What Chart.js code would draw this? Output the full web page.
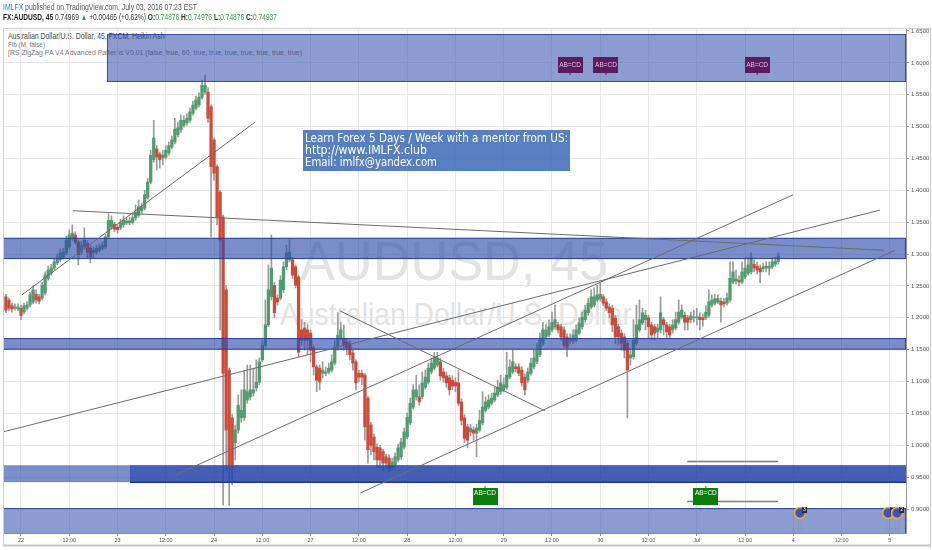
<!DOCTYPE html>
<html><head><meta charset="utf-8">
<script src="https://cdn.jsdelivr.net/npm/chart.js@4.4.1/dist/chart.umd.min.js"></script>
<style>
html,body{margin:0;padding:0;background:#fff;width:932px;height:550px;overflow:hidden;font-family:"Liberation Sans",Arial,sans-serif;}
.t{position:absolute;white-space:nowrap;transform-origin:0 0;line-height:1;}
#under{position:absolute;left:0;top:0;width:932px;height:550px;z-index:0;}
#c{position:absolute;left:0;top:0;z-index:1;}
#over{position:absolute;left:0;top:0;width:932px;height:550px;z-index:2;pointer-events:none;}
#box{position:absolute;left:303px;top:130px;width:267px;height:41px;background:rgba(60,105,185,0.85);}
.g{color:#35a03f}
.dv{font-family:"DejaVu Sans",Verdana,sans-serif;}
</style></head><body>
<div id="under">
  <div class="t" data-w="158" style="left:8px;top:32px;font-size:8.4px;color:#444;">Australian Dollar/U.S. Dollar, 45, FXCM, Heikin Ashi</div>
  <div class="t" data-w="37" style="left:8px;top:41px;font-size:7.7px;color:#777;">Fib (M, false)</div>
  <div class="t" data-w="294" style="left:8px;top:48.5px;font-size:7.7px;color:#777;">[RS]ZigZag PA V4 Advanced Patterns V0.01 (false, true, 60, true, true, true, true, true, true, true)</div>
  <div class="t" data-w="308" style="left:300px;top:232.7px;font-size:56px;color:#e3e3e3;">AUDUSD, 45</div>
  <div class="t" data-w="352" style="left:280px;top:297.8px;font-size:32px;color:#e3e3e3;">Australian Dollar/U.S. Dollar</div>
</div>
<canvas id="c" width="932" height="550"></canvas>
<div id="over">
  <div class="t" data-w="194" style="left:3px;top:2.9px;font-size:8.4px;color:#555;"><span style="color:#2f7bd0">IMLFX</span> published on TradingView.com, July 03, 2016 07:23 EST</div>
  <div class="t" data-w="274" style="left:3px;top:12.9px;font-size:8.5px;color:#333;"><b style="color:#222">FX:AUDUSD, 45</b> 0.74969 <span class="g">▲</span> +0.00465 (+0.62%) <b>O:</b><span class="g">0.74876</span> <b>H:</b><span class="g">0.74976</span> <b>L:</b><span class="g">0.74876</span> <b>C:</b><span class="g">0.74937</span></div>
  <div id="box"></div>
  <div class="t dv" data-w="263" style="left:305px;top:132.9px;font-size:11.5px;color:#fff;">Learn Forex 5 Days / Week with a mentor from US:</div>
  <div class="t dv" data-w="122" style="left:305px;top:145.3px;font-size:11.5px;color:#fff;">http://www.IMLFX.club</div>
  <div class="t dv" data-w="132" style="left:305px;top:156.9px;font-size:11.5px;color:#fff;">Email: imlfx@yandex.com</div>
</div>
<script>
// ---- data (45-minute Heikin Ashi bars, oldest first) ----
const openP = [
1.233,1.228,1.219,1.215,1.214,1.215,1.209,1.215,1.220,1.225,
1.237,1.233,1.231,1.239,1.262,1.270,1.278,1.286,1.291,1.295,
1.302,1.311,1.325,1.330,1.319,1.303,1.311,1.317,1.309,1.302,
1.303,1.306,1.309,1.311,1.327,1.342,1.347,1.342,1.341,1.346,
1.349,1.349,1.350,1.357,1.361,1.368,1.372,1.389,1.413,1.448,
1.465,1.457,1.451,1.452,1.459,1.468,1.476,1.487,1.495,1.502,
1.506,1.510,1.521,1.529,1.534,1.546,1.554,1.554,1.531,1.479,
1.437,1.397,1.358,1.244,1.118,1.043,1.004,1.024,1.043,1.044,
1.071,1.076,1.082,1.090,1.099,1.134,1.157,1.189,1.233,1.251,
1.231,1.231,1.244,1.280,1.291,1.291,1.280,1.264,1.181,1.184,
1.181,1.176,1.153,1.123,1.121,1.113,1.113,1.115,1.118,1.129,
1.154,1.168,1.168,1.162,1.160,1.145,1.131,1.113,1.113,1.110,
1.074,1.032,1.013,0.997,0.996,0.990,0.982,0.980,0.966,0.969,
0.977,0.982,0.997,1.013,1.035,1.060,1.076,1.076,1.076,1.091,
1.099,1.115,1.121,1.126,1.131,1.115,1.109,1.106,1.102,1.099,
1.098,1.068,1.043,1.029,1.021,1.024,1.019,1.024,1.035,1.055,
1.060,1.066,1.071,1.079,1.084,1.087,1.091,1.107,1.115,1.123,
1.123,1.118,1.107,1.102,1.113,1.123,1.131,1.142,1.160,1.170,
1.173,1.181,1.186,1.189,1.186,1.181,1.170,1.164,1.164,1.165,
1.176,1.186,1.197,1.208,1.217,1.220,1.228,1.230,1.233,1.225,
1.217,1.215,1.200,1.186,1.176,1.170,1.160,1.137,1.139,1.160,
1.181,1.192,1.197,1.200,1.189,1.186,1.178,1.181,1.197,1.189,
1.186,1.181,1.184,1.193,1.201,1.204,1.200,1.197,1.200,1.200,
1.201,1.200,1.200,1.204,1.220,1.223,1.225,1.226,1.225,1.223,
1.228,1.256,1.258,1.259,1.256,1.264,1.270,1.272,1.284,1.281,
1.278,1.277,1.278,1.278,1.280,1.284,1.288];
const highP = [
1.237,1.231,1.223,1.222,1.222,1.220,1.223,1.225,1.240,1.250,
1.244,1.237,1.256,1.272,1.281,1.284,1.294,1.300,1.308,1.309,
1.328,1.338,1.346,1.335,1.322,1.320,1.341,1.322,1.313,1.311,
1.314,1.316,1.319,1.331,1.363,1.360,1.350,1.346,1.355,1.360,
1.357,1.358,1.363,1.377,1.385,1.380,1.400,1.419,1.463,1.510,
1.470,1.460,1.463,1.470,1.476,1.485,1.513,1.507,1.518,1.517,
1.520,1.529,1.540,1.548,1.553,1.573,1.581,1.561,1.534,1.482,
1.440,1.400,1.361,1.251,1.121,1.048,1.032,1.079,1.087,1.118,
1.126,1.126,1.121,1.134,1.137,1.165,1.228,1.283,1.330,1.256,
1.236,1.266,1.288,1.314,1.322,1.295,1.283,1.267,1.197,1.193,
1.189,1.181,1.157,1.126,1.126,1.131,1.123,1.129,1.142,1.165,
1.208,1.193,1.189,1.168,1.165,1.149,1.134,1.118,1.118,1.113,
1.077,1.036,1.018,1.002,1.000,0.994,0.986,0.985,0.980,0.988,
1.002,1.011,1.027,1.051,1.074,1.095,1.110,1.095,1.115,1.118,
1.129,1.137,1.146,1.146,1.137,1.121,1.115,1.110,1.109,1.106,
1.118,1.073,1.048,1.033,1.033,1.029,1.033,1.055,1.084,1.076,
1.079,1.082,1.091,1.102,1.110,1.106,1.146,1.134,1.149,1.128,
1.128,1.123,1.112,1.121,1.137,1.149,1.160,1.176,1.193,1.189,
1.197,1.209,1.220,1.193,1.190,1.186,1.175,1.175,1.181,1.189,
1.200,1.209,1.220,1.231,1.244,1.247,1.251,1.255,1.237,1.230,
1.222,1.220,1.204,1.190,1.181,1.175,1.165,1.149,1.197,1.220,
1.228,1.215,1.212,1.204,1.193,1.190,1.190,1.233,1.201,1.193,
1.190,1.197,1.209,1.228,1.220,1.209,1.204,1.209,1.212,1.215,
1.208,1.206,1.219,1.244,1.236,1.237,1.236,1.231,1.230,1.239,
1.288,1.288,1.275,1.266,1.288,1.294,1.294,1.302,1.291,1.288,
1.283,1.286,1.288,1.288,1.294,1.295,1.302];
const lowP = [
1.208,1.211,1.209,1.212,1.211,1.197,1.206,1.212,1.217,1.222,
1.223,1.222,1.228,1.236,1.259,1.267,1.275,1.283,1.288,1.292,
1.299,1.308,1.322,1.316,1.283,1.299,1.308,1.294,1.286,1.294,
1.300,1.303,1.306,1.308,1.324,1.339,1.335,1.333,1.338,1.342,
1.346,1.346,1.347,1.353,1.358,1.364,1.369,1.386,1.410,1.444,
1.432,1.435,1.440,1.449,1.455,1.465,1.473,1.484,1.491,1.499,
1.502,1.507,1.518,1.526,1.531,1.543,1.551,1.507,1.327,1.416,
1.346,1.181,0.906,0.961,0.906,0.938,0.977,1.019,1.036,1.039,
1.066,1.071,1.077,1.085,1.095,1.131,1.154,1.186,1.228,1.200,
1.220,1.228,1.239,1.275,1.288,1.262,1.247,1.139,1.157,1.149,
1.142,1.131,1.110,1.084,1.087,1.106,1.109,1.112,1.115,1.126,
1.149,1.165,1.149,1.142,1.134,1.118,1.087,1.099,1.095,1.008,
0.972,0.985,0.977,0.967,0.964,0.961,0.963,0.958,0.961,0.966,
0.974,0.978,0.994,1.010,1.032,1.057,1.071,1.063,1.073,1.088,
1.096,1.112,1.118,1.123,1.102,1.099,1.091,1.079,1.087,1.084,
1.062,1.032,1.004,0.996,1.015,1.008,0.982,1.021,1.032,1.052,
1.057,1.063,1.068,1.076,1.080,1.084,1.088,1.104,1.112,1.115,
1.109,1.093,1.079,1.098,1.110,1.120,1.128,1.139,1.157,1.167,
1.170,1.178,1.182,1.176,1.165,1.153,1.139,1.159,1.160,1.162,
1.173,1.182,1.193,1.204,1.214,1.217,1.225,1.226,1.219,1.211,
1.200,1.178,1.159,1.157,1.149,1.137,1.043,1.126,1.135,1.157,
1.178,1.189,1.181,1.168,1.165,1.165,1.168,1.176,1.173,1.168,
1.168,1.176,1.181,1.190,1.198,1.181,1.181,1.192,1.193,1.189,
1.181,1.187,1.197,1.201,1.217,1.220,1.222,1.193,1.217,1.220,
1.225,1.253,1.253,1.250,1.253,1.261,1.267,1.269,1.272,1.269,
1.255,1.272,1.272,1.267,1.277,1.281,1.284];
const closeP = [
1.212,1.215,1.214,1.217,1.217,1.204,1.219,1.220,1.236,1.244,
1.228,1.226,1.251,1.267,1.275,1.278,1.288,1.294,1.302,1.303,
1.322,1.330,1.333,1.319,1.299,1.314,1.322,1.303,1.295,1.306,
1.309,1.311,1.314,1.327,1.353,1.353,1.339,1.338,1.349,1.353,
1.352,1.352,1.357,1.366,1.374,1.374,1.393,1.413,1.455,1.482,
1.452,1.448,1.455,1.463,1.470,1.479,1.496,1.498,1.510,1.510,
1.513,1.523,1.534,1.542,1.546,1.565,1.565,1.513,1.437,1.427,
1.358,1.322,1.113,1.024,0.969,0.969,1.024,1.063,1.055,1.087,
1.084,1.087,1.087,1.099,1.131,1.157,1.189,1.244,1.278,1.208,
1.225,1.259,1.280,1.302,1.303,1.267,1.251,1.146,1.165,1.165,
1.165,1.149,1.123,1.102,1.099,1.118,1.115,1.121,1.131,1.154,
1.173,1.181,1.157,1.153,1.142,1.129,1.098,1.107,1.107,1.029,
0.993,1.000,0.990,0.977,0.977,0.972,0.972,0.964,0.974,0.982,
0.996,1.005,1.021,1.044,1.066,1.087,1.087,1.068,1.098,1.107,
1.121,1.129,1.137,1.137,1.109,1.106,1.098,1.087,1.093,1.093,
1.066,1.039,1.011,1.008,1.027,1.019,1.027,1.039,1.060,1.068,
1.071,1.074,1.082,1.091,1.098,1.095,1.110,1.123,1.131,1.120,
1.113,1.098,1.087,1.115,1.129,1.137,1.149,1.165,1.181,1.181,
1.186,1.193,1.197,1.181,1.170,1.157,1.154,1.168,1.173,1.181,
1.192,1.201,1.212,1.223,1.233,1.233,1.236,1.237,1.223,1.215,
1.208,1.189,1.170,1.170,1.160,1.149,1.118,1.142,1.165,1.189,
1.197,1.208,1.204,1.186,1.173,1.176,1.184,1.208,1.189,1.178,
1.173,1.189,1.197,1.209,1.212,1.193,1.193,1.203,1.201,1.201,
1.197,1.197,1.209,1.225,1.228,1.230,1.230,1.220,1.222,1.231,
1.262,1.272,1.261,1.256,1.272,1.278,1.283,1.294,1.278,1.275,
1.272,1.280,1.281,1.281,1.288,1.289,1.297];

// time axis: one label every 16 bars (12 hours), first at bar 5
const tickLabels = ["22","12:00","23","12:00","24","12:00","27","12:00","28","12:00","29","12:00","30","12:00","Jul","12:00","4","12:00","5"];
const firstTickBar = 5, barsPerTick = 16;
const priceTicks = [0.90,0.95,1.00,1.05,1.10,1.15,1.20,1.25,1.30,1.35,1.40,1.45,1.50,1.55,1.60,1.65];

// drawn zones: [fromBar, toBar (null = right edge), lowPrice, highPrice]
const zones = [
  [33.5, null, 1.570, 1.6453],
  [null, null, 1.2922, 1.3255],
  [null, null, 1.1500, 1.1683],
  [null, null, 0.9422, 0.9688],
  [41.1, null, 0.9422, 0.9688],
  [null, null, 0.8600, 0.9016]
];
// trend lines: [bar1, price1, bar2, price2]
const trendLines = [
  [5.3, 1.236, 82.6, 1.507],
  [22.2, 1.368, 291.1, 1.306],
  [-1.0, 1.021, 289.7, 1.369],
  [56.0, 0.953, 260.9, 1.393],
  [117.4, 0.925, 294.7, 1.306],
  [110.7, 1.211, 178.7, 1.054]
];
const levelLines = [
  [225.8, 255.9, 0.975],
  [225.8, 255.9, 0.912]
];
// AB=CD pattern labels: bar, price (label edge), kind
const abcdBars   = [187.0, 198.9, 249.0, 158.8, 232.0];
const abcdPrices = [1.609, 1.609, 1.609, 0.933, 0.933];
const abcdKinds  = ["bear","bear","bear","bull","bull"];
const markerBars = [263.2, 292.4, 295.4];
const markerPrice = 0.8938;
const markerText = ["3","2","2"];

// ---- build datasets ----
const UP = '#4f9c6e', DOWN = '#cf4b38';
const wicks = openP.map((o,i)=>({x:i, y:[lowP[i], highP[i]]}));
const bodies = openP.map((o,i)=>({x:i, y:[o, closeP[i]]}));
const bodyColors = openP.map((o,i)=> closeP[i] >= o ? UP : DOWN);

const zoneStyles = [
  {fill:'rgba(45,75,170,0.55)', edge:'rgba(40,65,160,0.85)'},
  {fill:'rgba(45,75,170,0.63)', edge:'rgba(35,60,160,0.9)'},
  {fill:'rgba(45,75,170,0.63)', edge:'rgba(35,60,160,0.9)'},
  {fill:'rgba(45,75,170,0.62)', edge:null},
  {fill:'rgba(35,65,170,0.62)', edge:null, bottom:'#1e3791'},
  {fill:'rgba(45,75,170,0.55)', edge:'rgba(40,65,160,0.85)'}
];

const annot = {
  id:'annot',
  afterDatasetsDraw(chart){
    const {ctx, chartArea:a, scales:{x, y}} = chart;
    ctx.save();
    ctx.beginPath(); ctx.rect(a.left, a.top, a.right-a.left, a.bottom-a.top); ctx.clip();
    zones.forEach((z,k)=>{
      const st = zoneStyles[k];
      const x1 = z[0]==null ? a.left : x.getPixelForValue(z[0]);
      const x2 = z[1]==null ? a.right : x.getPixelForValue(z[1]);
      const yTop = y.getPixelForValue(z[3]), yBot = y.getPixelForValue(z[2]);
      ctx.fillStyle = st.fill;
      ctx.fillRect(x1, yTop, x2-x1, yBot-yTop);
      if (st.edge){
        ctx.strokeStyle = st.edge; ctx.lineWidth = 1;
        ctx.strokeRect(x1+0.5, yTop+0.5, x2-x1-1, yBot-yTop-1);
      }
      if (st.bottom){
        ctx.strokeStyle = st.bottom; ctx.lineWidth = 1.5;
        ctx.beginPath(); ctx.moveTo(x1, yBot); ctx.lineTo(x2, yBot); ctx.stroke();
      }
    });
    ctx.strokeStyle = '#6b6b6b'; ctx.lineWidth = 1;
    trendLines.forEach(l=>{
      ctx.beginPath();
      ctx.moveTo(x.getPixelForValue(l[0]), y.getPixelForValue(l[1]));
      ctx.lineTo(x.getPixelForValue(l[2]), y.getPixelForValue(l[3]));
      ctx.stroke();
    });
    ctx.strokeStyle = '#7a7a7a'; ctx.lineWidth = 1.5;
    levelLines.forEach(l=>{
      const yy = Math.round(y.getPixelForValue(l[2]))+0.5;
      ctx.beginPath(); ctx.moveTo(x.getPixelForValue(l[0]), yy); ctx.lineTo(x.getPixelForValue(l[1]), yy); ctx.stroke();
    });
    // AB=CD labels
    ctx.font = '6.5px "Liberation Sans", Arial, sans-serif';
    ctx.textAlign = 'center'; ctx.textBaseline = 'middle';
    abcdBars.forEach((b,k)=>{
      const cx = x.getPixelForValue(b), py = y.getPixelForValue(abcdPrices[k]);
      const bear = abcdKinds[k]==='bear';
      const w = 25, h = bear ? 16 : 17;
      const top = Math.round(py);
      ctx.fillStyle = bear ? '#5a1c5e' : '#0b7d0b';
      ctx.fillRect(Math.round(cx - w/2), top, w, h);
      ctx.strokeStyle = bear ? '#5a1c5e' : '#0b7d0b'; ctx.lineWidth = 1;
      ctx.beginPath();
      if (bear){ ctx.moveTo(cx, top+h); ctx.lineTo(cx, top+h+2); }
      else { ctx.moveTo(cx, top); ctx.lineTo(cx, top-2); }
      ctx.stroke();
      ctx.fillStyle = bear ? '#d9c7dc' : '#ffffff';
      ctx.fillText('AB=CD', cx, bear ? top + h/2 + 0.5 : top + 5);
    });
    // markers
    markerBars.forEach((b,k)=>{
      const cx = x.getPixelForValue(b), cy = y.getPixelForValue(markerPrice);
      ctx.setLineDash([1,1.5]); ctx.strokeStyle = '#8a8fa8'; ctx.lineWidth = 1;
      ctx.beginPath(); ctx.moveTo(cx-1.5, cy+5); ctx.lineTo(cx-1.5, a.bottom); ctx.moveTo(cx+1.5, cy+5); ctx.lineTo(cx+1.5, a.bottom); ctx.stroke();
      ctx.setLineDash([]);
      ctx.beginPath(); ctx.arc(cx, cy, 5.5, 0, Math.PI*2);
      ctx.fillStyle = '#3d55b8'; ctx.fill();
      ctx.strokeStyle = '#f2a83a'; ctx.lineWidth = 1.6; ctx.stroke();
      ctx.fillStyle = '#2b2b3a'; ctx.fillRect(cx+2, cy-6, 5, 6);
      ctx.fillStyle = '#fff'; ctx.font = '5px "Liberation Sans", Arial'; ctx.fillText(markerText[k], cx+4.5, cy-3);
    });
    ctx.restore();
  },
  afterDraw(chart){
    const {ctx} = chart;
    ctx.save();
    ctx.strokeStyle = '#cfcfcf'; ctx.lineWidth = 1;
    ctx.beginPath(); ctx.moveTo(3, 28.5); ctx.lineTo(930, 28.5); ctx.stroke();
    ctx.beginPath(); ctx.moveTo(3.5, 28); ctx.lineTo(3.5, 546); ctx.stroke();
    ctx.beginPath(); ctx.moveTo(930.5, 28); ctx.lineTo(930.5, 546); ctx.stroke();
    ctx.strokeStyle = '#c4c4c4'; ctx.lineWidth = 2;
    ctx.beginPath(); ctx.moveTo(3, 545.5); ctx.lineTo(931, 545.5); ctx.stroke();
    ctx.restore();
  }
};

const chart = new Chart(document.getElementById('c'), {
  type: 'bar',
  data: { datasets: [
    { data: wicks, backgroundColor: '#9a9a9a', barThickness: 1, grouped: false, borderWidth: 0, order: 2 },
    { data: bodies, backgroundColor: bodyColors, barThickness: 2.6, grouped: false, borderWidth: 0, minBarLength: 1, order: 1 }
  ]},
  options: {
    responsive: false, animation: false, devicePixelRatio: 1,
    layout: { padding: { left: 3, top: 28, right: 0, bottom: 5 } },
    plugins: { legend: { display: false }, tooltip: { enabled: false } },
    scales: {
      x: {
        type: 'linear', min: -0.961, max: 298.34, offset: false,
        grid: { color: '#e8e8e8', offset: false, tickLength: 3, tickColor: '#999' },
        border: { display: true, color: '#7d8bb8' },
        afterBuildTicks: s => { s.ticks = tickLabels.map((t,k)=>({ value: firstTickBar + barsPerTick*k })); },
        afterFit: s => { s.height = 12; },
        ticks: { callback: (v, idx) => tickLabels[idx], autoSkip: false, maxRotation: 0, padding: 1,
                 font: { size: 5.5, family: '"Liberation Sans", Arial' }, color: '#555' }
      },
      y: {
        position: 'right', min: 0.8624, max: 1.6547,
        grid: { color: '#e8e8e8', tickLength: 3, tickColor: '#999' },
        border: { display: true, color: '#999' },
        afterBuildTicks: s => { s.ticks = priceTicks.map(v => ({ value: v })); },
        afterFit: s => { s.width = 26; },
        ticks: { callback: v => v.toFixed(4), padding: 2, font: { size: 6, family: '"Liberation Sans", Arial' }, color: '#555' }
      }
    }
  },
  plugins: [annot]
});

function fit(){
  document.querySelectorAll('.t[data-w]').forEach(el=>{
    el.style.transform = 'none';
    const w = el.getBoundingClientRect().width;
    const target = parseFloat(el.dataset.w);
    if (w > 0) el.style.transform = 'scaleX(' + (target / w) + ')';
  });
}
fit();
if (document.fonts && document.fonts.ready) document.fonts.ready.then(fit);
</script>
</body></html>
